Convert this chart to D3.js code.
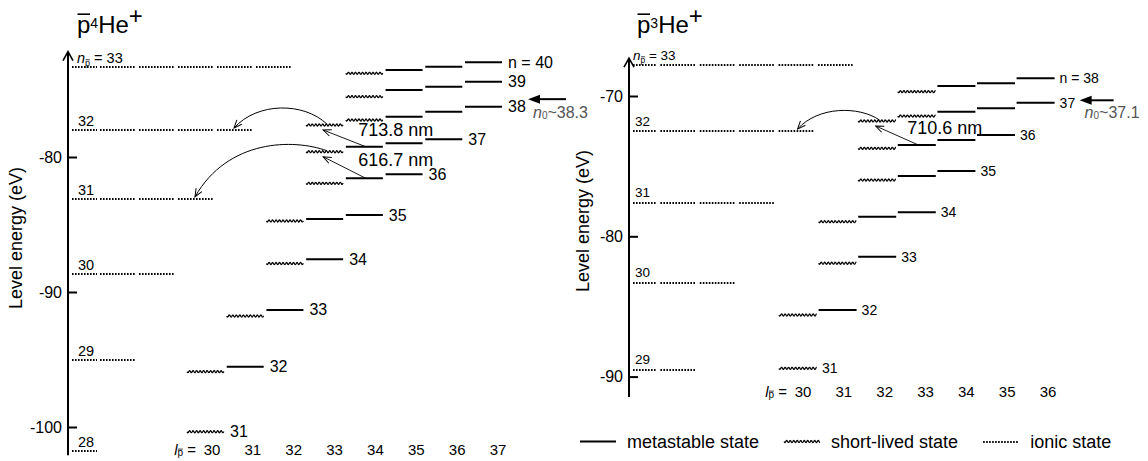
<!DOCTYPE html>
<html><head><meta charset="utf-8">
<script src="https://cdn.jsdelivr.net/npm/d3@7"></script>
<style>
body{margin:0;background:#fff;}
svg{display:block;font-family:"Liberation Sans",Arial,Helvetica,sans-serif;}
</style></head><body>
<svg id="chart" width="1148" height="461"></svg>
<script>
// ---------------- data ----------------
const he4Ticks = [-80, -90, -100];
const he3Ticks = [-70, -80, -90];
const he4Columns = [30, 31, 32, 33, 34, 35, 36, 37];
const he3Columns = [30, 31, 32, 33, 34, 35, 36];
const he4IonicN = [28, 29, 30, 31, 32, 33];
const he4IonicE = [-101.8, -95.0, -88.7, -83.1, -78.0, -73.3];
const he3IonicN = [29, 30, 31, 32, 33];
const he3IonicE = [-89.5, -83.3, -77.6, -72.5, -67.8];
// [n, l, energy (eV), kind]
const he4Levels = [
  [40,34,-73.80,"short"],[40,35,-73.56,"meta"],[40,36,-73.31,"meta"],[40,37,-72.99,"meta"],
  [39,34,-75.53,"short"],[39,35,-75.04,"meta"],[39,36,-74.79,"meta"],[39,37,-74.42,"meta"],
  [38,33,-77.63,"short"],[38,34,-77.26,"short"],[38,35,-77.01,"meta"],[38,36,-76.64,"meta"],[38,37,-76.27,"meta"],
  [37,33,-79.61,"short"],[37,34,-79.24,"meta"],[37,35,-78.99,"meta"],[37,36,-78.69,"meta"],
  [36,33,-81.95,"short"],[36,34,-81.58,"meta"],[36,35,-81.28,"meta"],
  [35,32,-84.74,"short"],[35,33,-84.59,"meta"],[35,34,-84.30,"meta"],
  [34,32,-87.89,"short"],[34,33,-87.58,"meta"],
  [33,31,-91.78,"short"],[33,32,-91.33,"meta"],
  [32,30,-95.90,"short"],[32,31,-95.53,"meta"],
  [31,30,-100.35,"short"]
];
const he3Levels = [
  [38,33,-69.69,"short"],[38,34,-69.29,"meta"],[38,35,-69.09,"meta"],[38,36,-68.74,"meta"],
  [37,32,-71.78,"short"],[37,33,-71.43,"short"],[37,34,-71.12,"meta"],[37,35,-70.88,"meta"],[37,36,-70.48,"meta"],
  [36,32,-73.73,"short"],[36,33,-73.49,"meta"],[36,34,-73.14,"meta"],[36,35,-72.78,"meta"],
  [35,32,-75.99,"short"],[35,33,-75.70,"meta"],[35,34,-75.35,"meta"],
  [34,31,-78.96,"short"],[34,32,-78.60,"meta"],[34,33,-78.29,"meta"],
  [33,31,-81.92,"short"],[33,32,-81.45,"meta"],
  [32,30,-85.61,"short"],[32,31,-85.25,"meta"],
  [31,30,-89.41,"short"]
];
// laser transitions: metastable (n,l) -> short-lived (n,l) -> Auger to ionic n
const he4Transitions = [
  {from:[37,34], to:[38,33], ionic:32, label:"713.8 nm", arc:22},
  {from:[36,34], to:[37,33], ionic:31, label:"616.7 nm", arc:12}
];
const he3Transitions = [
  {from:[36,33], to:[37,32], ionic:32, label:"710.6 nm", arc:14}
];
const he4N0 = 38.3;
const he3N0 = 37.1;
const legendLabels = ["metastable state", "short-lived state", "ionic state"];
const legendKinds = ["meta", "short", "ionic"];

// ---------------- drawing ----------------
const svg = d3.select("#chart");
const defs = svg.append("defs");
defs.append("marker").attr("id","openHead").attr("markerUnits","userSpaceOnUse")
  .attr("viewBox","-9 -5 10 10").attr("refX",0).attr("refY",0)
  .attr("markerWidth",10).attr("markerHeight",10).attr("orient","auto")
  .append("path").attr("d","M-8,-3.3 L0,0 L-8,3.3").attr("fill","none")
  .attr("stroke","#000").attr("stroke-width",1);

const waveD = (x1, x2, y) => d3.line()(d3.range(x1, x2 + 0.01, 0.3)
  .map(x => [x, y + 1.0 * Math.sin((x - x1) * 2 * Math.PI / 3.5)]));
const lineD = (x1, x2, y) => d3.line()([[x1, y], [x2, y]]);

function drawMark(g, kind, x1, x2, y) {
  const p = g.append("path").attr("fill","none").attr("stroke","#000");
  if (kind === "meta") p.attr("d", lineD(x1, x2, y)).attr("stroke-width", 2);
  else if (kind === "short") p.attr("d", waveD(x1, x2, y)).attr("stroke-width", 1.25);
  else p.attr("d", lineD(x1, x2, Math.round(y))).attr("stroke-width", 2).attr("stroke-dasharray","1.6 1.4");
  return p;
}

function overline(g, textSel, idx, pad, sw) {
  const e = textSel.node().getExtentOfChar(idx);
  g.append("line").attr("x1", e.x + 0.5).attr("x2", e.x + e.width - 0.3)
    .attr("y1", e.y + pad).attr("y2", e.y + pad)
    .attr("stroke","#000").attr("stroke-width", sw);
}

function drawPanel(P) {
  const g = svg.append("g");
  const y = d3.scaleLinear().domain(P.eDomain).range(P.yRange);
  const xCol = d3.scaleLinear().domain([P.columns[0], P.columns[P.columns.length-1]]).range(P.colRange);
  const xLab = d3.scaleLinear().domain([P.columns[0], P.columns[P.columns.length-1]]).range(P.labRange);
  const xIon = d3.scaleLinear().domain([0, 5]).range(P.ionRange);

  // title
  const t = g.append("text").attr("x", P.titleX).attr("y", 33).attr("font-size", 24).attr("fill","#000");
  t.append("tspan").text("p");
  t.append("tspan").attr("font-size", 14).attr("dy", -5).text(P.isotope);
  t.append("tspan").attr("dy", 5).text("He");
  t.append("tspan").attr("dy", -9).text("+");
  overline(g, t, 0, 3.2, 1.6);

  // axis
  const axTop = y(P.eTop), axBot = y(P.eBottom);
  g.append("line").attr("x1", P.axisX).attr("x2", P.axisX).attr("y1", axTop).attr("y2", axBot)
    .attr("stroke","#000").attr("stroke-width", 2);
  g.append("path").attr("d", d3.line()([[P.axisX-5, axTop+9],[P.axisX, axTop],[P.axisX+5, axTop+9]]))
    .attr("fill","none").attr("stroke","#000").attr("stroke-width",1.6);
  const ax = g.append("g").attr("transform", `translate(${P.axisX},0)`)
    .call(d3.axisLeft(y).tickValues(P.ticks).tickSizeInner(-9).tickSizeOuter(0).tickPadding(6).tickFormat(d => String(d)));
  ax.select(".domain").remove();
  ax.selectAll(".tick line").attr("stroke","#000").attr("stroke-width", 2);
  ax.selectAll(".tick text").attr("font-size", 16).attr("fill","#000")
    .attr("font-family",'"Liberation Sans",Arial,sans-serif');
  g.append("text").attr("transform", `translate(${P.axisTitleX},${P.axisTitleY}) rotate(-90)`)
    .attr("text-anchor","middle").attr("font-size", 18).attr("fill","#000").text("Level energy (eV)");

  // ionic states
  P.ionicN.forEach((n, i) => {
    const yy = y(P.ionicE[i]);
    d3.range(0, n - 27).forEach(k => {
      drawMark(g, "ionic", Math.max(xIon(k), P.ionStart), xIon(k) + P.ionW, yy);
    });
    const isTop = i === P.ionicN.length - 1;
    const lt = g.append("text").attr("x", P.axisX + (isTop ? P.ionTopDx : P.ionLabDx))
      .attr("y", yy - P.ionLabDy).attr("font-size", P.ionFont).attr("fill","#000");
    if (isTop) {
      lt.append("tspan").attr("font-style","italic").text("n");
      lt.append("tspan").attr("font-size", P.ionFont*0.62).attr("dy", 3).text("p");
      lt.append("tspan").attr("dy", -3).text(" = " + n);
      overline(g, lt, 1, 2.2, 0.8);
    } else lt.text(n);
  });

  // levels
  P.levels.forEach(d => {
    const x1 = xCol(d[1]);
    drawMark(g, d[3], x1, x1 + P.colW, y(d[2]));
  });
  const nMax = d3.max(P.levels, d => d[0]);
  d3.groups(P.levels, d => d[0]).forEach(([n, arr]) => {
    const top = arr.reduce((a, b) => (b[1] > a[1] ? b : a));
    g.append("text").attr("x", xCol(top[1]) + P.colW + P.levLabDx).attr("y", y(top[2]))
      .attr("dominant-baseline","central").attr("font-size", P.levFont).attr("fill","#000")
      .text(n === nMax ? "n = " + n : n);
  });

  // column labels
  P.columns.forEach(l => {
    g.append("text").attr("x", xLab(l)).attr("y", P.colLabY).attr("text-anchor","middle")
      .attr("dominant-baseline","central").attr("font-size", 15).attr("fill","#000").text(l);
  });
  const cl = g.append("text").attr("x", xLab(P.columns[0]) - 16).attr("y", P.colLabY)
    .attr("text-anchor","end").attr("dominant-baseline","central").attr("font-size", 15).attr("fill","#000");
  cl.append("tspan").attr("font-style","italic").text("l");
  cl.append("tspan").attr("font-size", 10).attr("dy", 3).text("p");
  cl.append("tspan").attr("dy", -3).text("\u00a0=");
  overline(g, cl, 1, 2.6, 0.8);

  // transitions
  const lev = (n, l) => P.levels.find(d => d[0] === n && d[1] === l);
  P.transitions.forEach(tr => {
    const a = lev(tr.from[0], tr.from[1]), b = lev(tr.to[0], tr.to[1]);
    const ax1 = xCol(a[1]) + P.colW * 0.54, ay1 = y(a[2]);
    const bx = xCol(b[1]) + P.colW * 0.46, by = y(b[2]) + 5;
    g.append("path").attr("d", d3.line()([[ax1, ay1],[bx, by]])).attr("fill","none")
      .attr("stroke","#000").attr("stroke-width",0.9).attr("marker-end","url(#openHead)");
    // Auger curve to ionic state
    const ii = P.ionicN.indexOf(tr.ionic);
    const kMax = tr.ionic - 28;
    const sx = xCol(b[1]) + P.colW * 0.56, sy = y(b[2]) - 1;
    const ex = xIon(kMax) + P.ionW - P.curveEndDx, ey = y(P.ionicE[ii]) - 2;
    const base = Math.min(sy, ey) - tr.arc;
    const dx = sx - ex;
    const path = d3.path();
    path.moveTo(sx, sy);
    path.bezierCurveTo(sx - 0.25*dx, base, ex + 0.25*dx, base, ex, ey);
    g.append("path").attr("d", path.toString()).attr("fill","none").attr("stroke","#000")
      .attr("stroke-width",1).attr("marker-end","url(#openHead)");
    g.append("text").attr("x", xCol(b[1]) + P.colW + P.trLabDx).attr("y", (ay1 + by) / 2 - P.trLabDy)
      .attr("dominant-baseline","central").attr("font-size", 18).attr("fill","#000").text(tr.label);
  });

  // n0 arrow
  const topCol = P.columns[P.columns.length - 1];
  const nLo = Math.floor(P.n0);
  const eLo = lev(nLo, topCol)[2], eHi = lev(nLo + 1, topCol)[2];
  const ay = y(eLo + (P.n0 - nLo) * (eHi - eLo));
  const tip = xCol(topCol) + P.colW + P.n0TipDx;
  g.append("line").attr("x1", tip + 9).attr("x2", tip + P.n0Len).attr("y1", ay).attr("y2", ay)
    .attr("stroke","#000").attr("stroke-width", 2);
  g.append("path").attr("d", d3.line()([[tip, ay],[tip + 12, ay - 4.5],[tip + 12, ay + 4.5]]) + "Z").attr("fill","#000");
  const nt = g.append("text").attr("x", tip + 5).attr("y", ay + P.n0TextDy).attr("dominant-baseline","central")
    .attr("font-size", 16).attr("fill","#555");
  nt.append("tspan").attr("font-style","italic").text("n");
  nt.append("tspan").attr("font-size", 10).attr("dy", 3).text("0");
  nt.append("tspan").attr("dy", -3).text("~" + P.n0);
}

drawPanel({
  isotope:"4", titleX:77, ticks:he4Ticks, columns:he4Columns, levels:he4Levels,
  ionicN:he4IonicN, ionicE:he4IonicE, transitions:he4Transitions, n0:he4N0,
  eDomain:[-80,-100], yRange:[157,427], eTop:-72.2, eBottom:-102.1, axisX:68,
  colRange:[187,465], colW:37, labRange:[212,498], colLabY:449,
  ionRange:[61,256], ionW:36, ionStart:72,
  ionLabDx:10, ionTopDx:9, ionLabDy:4, ionFont:14.5, levFont:16, levLabDx:6,
  axisTitleX:22, axisTitleY:238, curveEndDx:19, trLabDx:15, trLabDy:8,
  n0TipDx:26, n0Len:38, n0TextDy:13
});
drawPanel({
  isotope:"3", titleX:637, ticks:he3Ticks, columns:he3Columns, levels:he3Levels,
  ionicN:he3IonicN, ionicE:he3IonicE, transitions:he3Transitions, n0:he3N0,
  eDomain:[-70,-90], yRange:[96,376.6], eTop:-67.3, eBottom:-91.45, axisX:629,
  colRange:[779,1016.6], colW:38, labRange:[803,1048], colLabY:391,
  ionRange:[621,818], ionW:36, ionStart:633,
  ionLabDx:6, ionTopDx:4, ionLabDy:5.5, ionFont:13.5, levFont:14, levLabDx:5,
  axisTitleX:589, axisTitleY:221, curveEndDx:17, trLabDx:11, trLabDy:7,
  n0TipDx:25, n0Len:34, n0TextDy:12
});

// legend
const lg = svg.append("g");
let lx = 580;
legendLabels.forEach((lab, i) => {
  drawMark(lg, legendKinds[i], lx, lx + 36, 441.5);
  const tx = lg.append("text").attr("x", lx + 47).attr("y", 441.5).attr("dominant-baseline","central")
    .attr("font-size", 18).attr("fill","#000").text(lab);
  lx = lx + 47 + tx.node().getComputedTextLength() + 25;
});
</script>
</body></html>
